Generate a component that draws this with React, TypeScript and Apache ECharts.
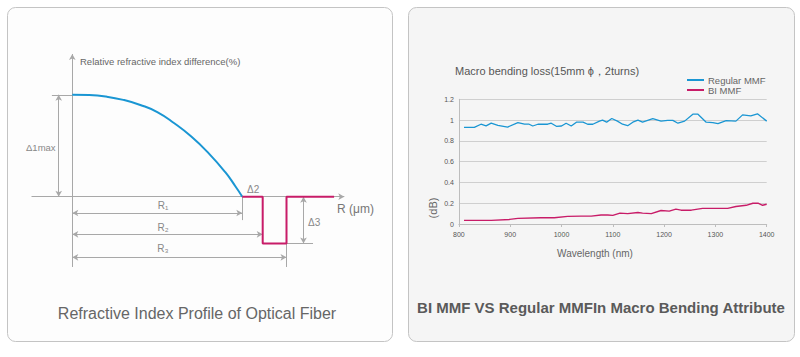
import React, { useEffect, useRef } from "react";
import * as echarts from "echarts";

// ---------- Left panel: refractive index profile (schematic) ----------
const coreRadius = [0, 2.5, 5, 7.5, 10, 12.5, 15, 17.5, 20, 22.5, 24, 25];
const coreDelta = [1.0, 0.997, 0.982, 0.95, 0.9, 0.83, 0.72, 0.59, 0.43, 0.24, 0.1, 0.0];
const trenchRadius = [25, 28, 28, 31.5, 31.5, 38.5];
const trenchDelta = [0, 0, -0.46, -0.46, 0, 0];

// ---------- Right panel: macro bending loss ----------
const regularWavelength = [810, 830, 843, 853, 863, 876, 895, 915, 928, 936, 944, 954, 973, 980, 990, 1000, 1009, 1019, 1029, 1042, 1051, 1061, 1074, 1080, 1088, 1098, 1109, 1119, 1129, 1139, 1149, 1158, 1178, 1194, 1207, 1217, 1227, 1240, 1256, 1266, 1282, 1295, 1305, 1321, 1340, 1353, 1369, 1382, 1400];
const regularLoss = [0.93, 0.93, 0.96, 0.945, 0.97, 0.95, 0.933, 0.975, 0.962, 0.962, 0.943, 0.96, 0.96, 0.97, 0.94, 0.943, 0.97, 0.943, 0.98, 0.98, 0.96, 0.96, 0.99, 1.0, 0.98, 1.015, 0.99, 0.96, 0.946, 0.98, 1.0, 0.98, 1.013, 0.99, 0.997, 0.997, 0.97, 0.99, 1.057, 1.057, 0.98, 0.975, 0.965, 0.994, 0.99, 1.05, 1.04, 1.06, 0.99];
const biWavelength = [810, 863, 899, 915, 960, 986, 1012, 1038, 1058, 1077, 1090, 1100, 1114, 1129, 1149, 1158, 1175, 1194, 1210, 1223, 1233, 1253, 1275, 1305, 1324, 1340, 1360, 1373, 1383, 1392, 1400];
const biLoss = [0.035, 0.035, 0.044, 0.054, 0.06, 0.06, 0.073, 0.076, 0.076, 0.086, 0.086, 0.083, 0.105, 0.1, 0.11, 0.105, 0.1, 0.13, 0.124, 0.143, 0.133, 0.133, 0.15, 0.15, 0.15, 0.168, 0.18, 0.2, 0.2, 0.18, 0.19];
const seriesNames = ["Regular MMF", "BI MMF"];

const FONT = "Liberation Sans, Arial, Helvetica, sans-serif";
const BLUE = "#1a96d3";
const PINK = "#c81c68";
const GUIDE = "#a8a8a8";

function zip(a: number[], b: number[]) {
  return a.map((v, i) => [v, b[i]]);
}

function seg(p1: number[], p2: number[], s1: string, s2: string) {
  return [
    { coord: p1, symbol: s1 },
    { coord: p2, symbol: s2 },
  ];
}

function txt(text: string, x: number, y: number, size: number, color: string, align = "left", weight = "normal", rotation = 0) {
  return {
    type: "text",
    x,
    y,
    rotation,
    z: 10,
    style: {
      text,
      fontSize: size,
      fontFamily: FONT,
      fontWeight: weight,
      fill: color,
      textAlign: align,
      textVerticalAlign: "middle",
    },
  };
}

export default function App() {
  const ref = useRef<HTMLDivElement>(null);

  useEffect(() => {
    if (!ref.current) return;
    const chart = echarts.init(ref.current, undefined, { renderer: "svg" });

    const guides = [
      seg([-6, 0], [40, 0], "none", "arrow"),
      seg([0, -0.69], [0, 1.4], "none", "arrow"),
      seg([-3, 1], [0, 1], "none", "none"),
      seg([-2, 1], [-2, 0], "arrow", "arrow"),
      seg([0, -0.16], [25, -0.16], "arrow", "arrow"),
      seg([25, 0], [25, -0.23], "none", "none"),
      seg([0, -0.37], [28, -0.37], "arrow", "arrow"),
      seg([0, -0.595], [31.5, -0.595], "arrow", "arrow"),
      seg([31.5, -0.46], [31.5, -0.69], "none", "none"),
      seg([34, 0], [34, -0.46], "arrow", "arrow"),
      seg([31.5, -0.46], [35.4, -0.46], "none", "none"),
    ];

    const option: any = {
      animation: false,
      textStyle: { fontFamily: FONT },
      graphic: [
        {
          type: "rect",
          z: -1,
          shape: { x: 7.5, y: 7.5, width: 385, height: 334, r: 8 },
          style: { fill: "#fdfdfd", stroke: "#c4c4c4", lineWidth: 1 },
        },
        {
          type: "rect",
          z: -1,
          shape: { x: 408.5, y: 7.5, width: 386, height: 334, r: 8 },
          style: { fill: "#f5f5f5", stroke: "#c4c4c4", lineWidth: 1 },
        },
        txt("Relative refractive index difference(%)", 80, 61, 9.5, "#666"),
        txt("Δ1max", 26, 147, 9.5, "#888"),
        txt("Δ2", 247, 189, 10, "#888"),
        txt("Δ3", 308, 222, 10, "#888"),
        txt("R₁", 163, 205, 10, "#888", "center"),
        txt("R₂", 163, 227, 10, "#888", "center"),
        txt("R₃", 163, 248, 10, "#888", "center"),
        txt("R (μm)", 337, 209, 12, "#777"),
        txt("Refractive Index Profile of Optical Fiber", 197, 313, 16, "#666", "center"),
        txt("Macro bending loss(15mm ϕ，2turns)", 455, 71, 11, "#555"),
        txt("(dB)", 433, 208, 11, "#666", "center", "normal", Math.PI / 2),
        txt("Wavelength (nm)", 595, 253, 10, "#666", "center"),
        txt("BI MMF VS Regular MMFIn Macro Bending Attribute", 601, 307, 15, "#5a5a5a", "center", "bold"),
      ],
      legend: {
        data: seriesNames,
        orient: "vertical",
        left: 687,
        top: 75,
        padding: 0,
        itemWidth: 17,
        itemHeight: 2,
        itemGap: 0,
        icon: "rect",
        textStyle: { fontSize: 9.5, color: "#666", fontFamily: FONT, padding: [0, 0, 0, -1], lineHeight: 9 },
      },
      grid: [
        { left: 31.5, top: 54, width: 312.8, height: 214, outerBoundsMode: "none" },
        { left: 458.9, top: 99.3, width: 307.8, height: 124.7, outerBoundsMode: "none" },
      ],
      xAxis: [
        { type: "value", gridIndex: 0, min: -6, max: 40, show: false },
        {
          type: "value",
          gridIndex: 1,
          min: 800,
          max: 1400,
          interval: 100,
          axisLine: { show: true, lineStyle: { color: "#bdbdbd", width: 1 } },
          axisTick: { show: true, length: 3, lineStyle: { color: "#bdbdbd" } },
          axisLabel: { fontSize: 7, color: "#555", margin: 7, fontFamily: FONT, formatter: (v: number) => String(v) },
          splitLine: { show: false },
        },
      ],
      yAxis: [
        { type: "value", gridIndex: 0, min: -0.7, max: 1.4, show: false },
        {
          type: "value",
          gridIndex: 1,
          min: 0,
          max: 1.2,
          interval: 0.2,
          axisLine: { show: true, lineStyle: { color: "#bdbdbd", width: 1 } },
          axisTick: { show: false },
          axisLabel: { fontSize: 7, color: "#555", margin: 5, fontFamily: FONT },
          splitLine: { show: true, lineStyle: { color: "#cfcfcf", width: 1 } },
        },
      ],
      series: [
        {
          type: "line",
          name: "core",
          xAxisIndex: 0,
          yAxisIndex: 0,
          data: zip(coreRadius, coreDelta),
          smooth: true,
          showSymbol: false,
          lineStyle: { color: BLUE, width: 2 },
          itemStyle: { color: BLUE },
          z: 5,
          markLine: {
            silent: true,
            symbolSize: [5, 6],
            label: { show: false },
            lineStyle: { color: GUIDE, width: 1, type: "solid" },
            itemStyle: { color: GUIDE },
            emphasis: { disabled: true },
            data: guides,
            z: 1,
          },
        },
        {
          type: "line",
          name: "trench",
          xAxisIndex: 0,
          yAxisIndex: 0,
          data: zip(trenchRadius, trenchDelta),
          showSymbol: false,
          lineStyle: { color: PINK, width: 2 },
          itemStyle: { color: PINK },
          z: 5,
        },
        {
          type: "line",
          name: seriesNames[0],
          xAxisIndex: 1,
          yAxisIndex: 1,
          data: zip(regularWavelength, regularLoss),
          showSymbol: false,
          lineStyle: { color: BLUE, width: 1.3 },
          itemStyle: { color: BLUE },
        },
        {
          type: "line",
          name: seriesNames[1],
          xAxisIndex: 1,
          yAxisIndex: 1,
          data: zip(biWavelength, biLoss),
          showSymbol: false,
          lineStyle: { color: PINK, width: 1.4 },
          itemStyle: { color: PINK },
        },
      ],
    };

    chart.setOption(option);
    return () => chart.dispose();
  }, []);

  return (
    <div
      ref={ref}
      style={{ position: "absolute", left: 0, top: 0, width: 800, height: 357, background: "#ffffff" }}
    />
  );
}
